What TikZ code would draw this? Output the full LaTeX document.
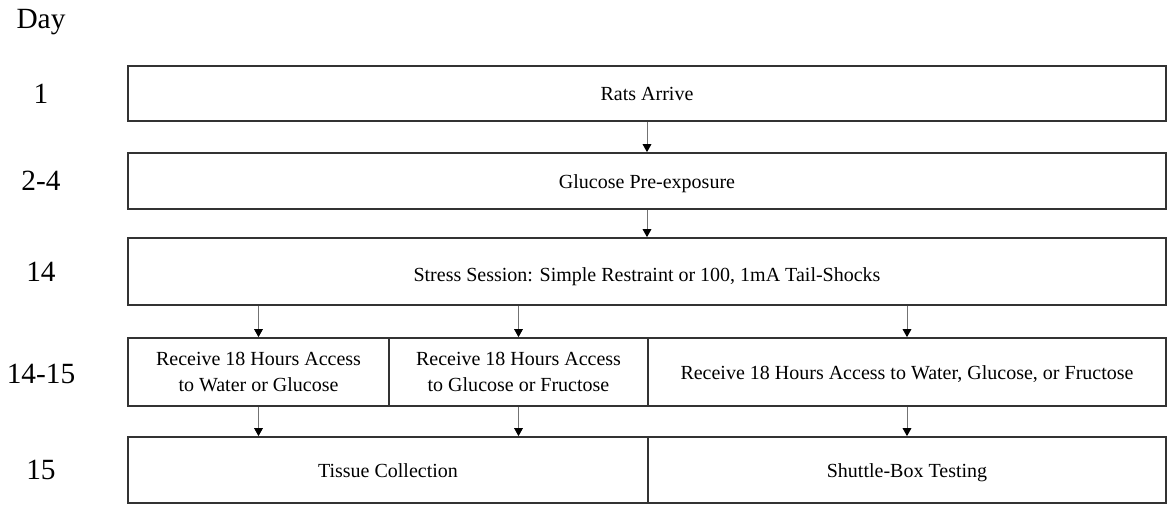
\documentclass[tikz,border=0pt]{standalone}
\usepackage{fontspec}
\setmainfont{Liberation Serif}
\usetikzlibrary{arrows.meta}
\begin{document}
\begin{tikzpicture}[x=0.75pt,y=-0.75pt,
  stage/.style={draw=black!80,line width=1.3pt,inner sep=0pt,align=center,
    font=\fontsize{15}{19}\selectfont},
  oneline/.style={text height=11pt,text depth=0pt},
  daylab/.style={inner sep=0pt,font=\fontsize{22}{24}\selectfont},
  flow/.style={draw=black!55,line width=0.75pt,
    -{Triangle[length=6pt,width=6.5pt,color=black]}}]
\useasboundingbox[fill=white] (0,0) rectangle (1167,504);

% timeline stages
\node[stage,oneline,minimum width=778.5pt,minimum height=41.25pt] (b1) at (647,93.5) {Rats Arrive};
\node[stage,oneline,minimum width=778.5pt,minimum height=42pt] (b2) at (647,181) {Glucose Pre-exposure};
\node[stage,text height=15pt,text depth=0pt,minimum width=778.5pt,minimum height=50.25pt] (b3) at (647,271.5)
  {Stress Session: Simple Restraint or 100, 1mA Tail-Shocks};
\node[stage,minimum width=195.75pt,minimum height=51pt] (b4a) at (258.5,372)
  {Receive 18 Hours Access\\to Water or Glucose};
\node[stage,minimum width=194.25pt,minimum height=51pt] (b4b) at (518.5,372)
  {Receive 18 Hours Access\\to Glucose or Fructose};
\node[stage,oneline,minimum width=388.5pt,minimum height=51pt] (b4c) at (907,372)
  {Receive 18 Hours Access to Water, Glucose, or Fructose};
\node[stage,oneline,minimum width=390pt,minimum height=49.5pt] (b5a) at (388,470) {Tissue Collection};
\node[stage,oneline,minimum width=388.5pt,minimum height=49.5pt] (b5b) at (907,470) {Shuttle-Box Testing};

% day labels
\node[daylab,anchor=base] (day) at (41,28) {Day};
\node[daylab] (d1) at (41,0 |- b1) {1};
\node[daylab] (d2) at (41,0 |- b2) {2-4};
\node[daylab] (d3) at (41,0 |- b3) {14};
\node[daylab] (d4) at (41,374) {14-15};
\node[daylab] (d5) at (41,0 |- b5a) {15};

% connectors
\draw[flow] (b1.south) -- (b2.north);
\draw[flow] (b2.south) -- (b3.north);
\draw[flow] (b4a.north |- b3.south) -- (b4a.north);
\draw[flow] (b4b.north |- b3.south) -- (b4b.north);
\draw[flow] (b4c.north |- b3.south) -- (b4c.north);
\draw[flow] (b4a.south) -- (b4a.south |- b5a.north);
\draw[flow] (b4b.south) -- (b4b.south |- b5a.north);
\draw[flow] (b4c.south) -- (b5b.north);
\end{tikzpicture}
\end{document}
